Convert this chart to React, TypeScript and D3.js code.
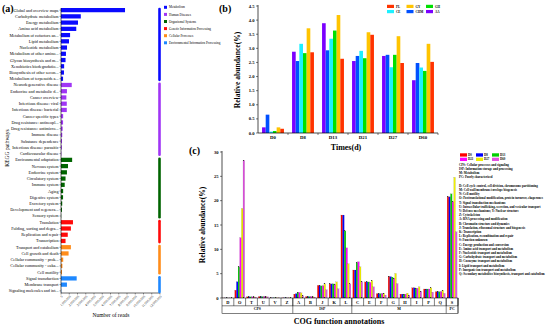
import React from 'react';
import * as d3 from 'd3';

// ---- panel (a): KEGG pathways ----
const keggLabels = [
  'Global and overview maps', 'Carbohydrate metabolism', 'Energy metabolism', 'Amino acid metabolism',
  'Metabolism of cofactors an...', 'Lipid metabolism', 'Nucleotide metabolism', 'Metabolism of other amino...',
  'Glycan biosynthesis and m...', 'Xenobiotics biodegradatio...', 'Biosynthesis of other secon...', 'Metabolism of terpenoids a...',
  'Neurodegenerative disease', 'Endocrine and metabolic d...', 'Cancer overview', 'Infectious disease: viral',
  'Infectious disease: bacterial', 'Cancer specific types', 'Drug resistance: antineopl...', 'Drug resistance: antimicro...',
  'Immune disease', 'Substance dependence', 'Infectious disease: parasitic', 'Cardiovascular disease',
  'Environmental adaptation', 'Nervous system', 'Endocrine system', 'Circulatory system', 'Immune system', 'Aging',
  'Digestive system', 'Excretory system', 'Development and regenera...', 'Sensory system',
  'Translation', 'Folding, sorting and degra...', 'Replication and repair', 'Transcription',
  'Transport and catabolism', 'Cell growth and death', 'Cellular community - prok...', 'Cellular community - euka...', 'Cell motility',
  'Signal transduction', 'Membrane transport', 'Signaling molecules and int...',
];
// number of reads, in millions
const keggReads = [
  7.76, 2.4, 2.06, 1.85, 1.1, 0.97, 0.73, 0.6, 0.55, 0.38, 0.36, 0.25,
  1.3, 0.72, 0.65, 0.7, 0.7, 0.26, 0.25, 0.2, 0.15, 0.12, 0.1, 0.04,
  1.35, 0.85, 0.72, 0.55, 0.45, 0.26, 0.25, 0.15, 0.12, 0.02,
  1.45, 1.2, 0.82, 0.55,
  1.2, 0.92, 0.27, 0.17, 0.12,
  1.9, 0.72, 0.03,
];
const keggGroups = ['Metabolism', 'Human Diseases', 'Organismal Systems', 'Genetic Information Processing', 'Cellular Processes', 'Environmental Information Processing'];
const keggGroupSizes = [12, 12, 10, 4, 5, 3];
const keggColors = ['#0a0aff', '#a035f5', '#006400', '#ff0a0a', '#ff8c1a', '#1e88ff'];
const readTicks = d3.range(0, 13);

// ---- panel (b): relative abundance over time ----
const days = ['D0', 'D8', 'D13', 'D21', 'D27', 'D60'];
const treatments = ['AA', 'CHM', 'CE', 'GH', 'GY', 'PL'];
const treatmentColors = ['#7a00ff', '#0050ff', '#1ef0ff', '#00e000', '#ffc400', '#ff3300'];
const abundanceAA = [0.2, 2.88, 3.89, 2.55, 2.73, 1.87];
const abundanceCHM = [0.65, 2.55, 2.93, 2.73, 2.77, 2.48];
const abundanceCE = [0.05, 3.16, 3.34, 2.91, 2.33, 2.32];
const abundanceGH = [0.07, 2.83, 3.63, 2.65, 2.77, 2.2];
const abundanceGY = [0.2, 3.71, 4.18, 3.57, 3.43, 3.16];
const abundancePL = [0.15, 2.86, 2.63, 3.48, 2.48, 2.52];
const abundanceB = [abundanceAA, abundanceCHM, abundanceCE, abundanceGH, abundanceGY, abundancePL];
const legendOrderB = ['PL', 'GY', 'GH', 'CE', 'CHM', 'AA'];
const yTicksB = d3.range(0, 4.51, 0.5);

// ---- panel (c): COG functions ----
const cogCats = ['D', 'O', 'T', 'U', 'V', 'Z', 'A', 'B', 'J', 'K', 'L', 'C', 'E', 'F', 'G', 'H', 'I', 'P', 'Q', 'S'];
const cogGroups = ['CPS', 'ISP', 'M', 'PC'];
const cogGroupSizes = [6, 5, 8, 1];
const cogDays = ['D0', 'D8', 'D13', 'D21', 'D27', 'D60'];
const cogColors = ['#ff0000', '#0000ff', '#00d000', '#ff00ff', '#f0f000', '#e050e0'];
const cogD0 = [0.02, 1.6, 0.25, 0.3, 0.05, 0.05, 0.8, 0.3, 2.6, 2.9, 17.05, 5.75, 3.3, 0.9, 4.45, 0.8, 2.1, 1.85, 1.3, 20.8];
const cogD8 = [0.02, 3.35, 0.25, 0.3, 0.05, 0.05, 0.9, 0.3, 2.5, 2.9, 17.05, 5.75, 3.3, 0.9, 4.4, 0.8, 2.1, 1.85, 1.3, 20.8];
const cogD13 = [0.02, 6.4, 0.25, 0.3, 0.05, 0.05, 1.15, 0.3, 2.5, 2.9, 13.8, 7.3, 3.3, 0.9, 4.3, 0.8, 2.0, 1.85, 1.3, 21.4];
const cogD21 = [0.02, 12.4, 0.25, 0.3, 0.05, 0.05, 1.15, 0.3, 2.5, 2.8, 10.3, 7.45, 3.2, 0.9, 4.1, 0.8, 2.0, 1.85, 1.3, 19.8];
const cogD27 = [0.02, 18.4, 0.25, 0.3, 0.05, 0.05, 1.05, 0.3, 2.9, 3.3, 7.05, 6.4, 3.6, 1.0, 5.05, 1.0, 2.3, 2.1, 1.6, 24.8];
const cogD60 = [0.02, 28.3, 0.2, 0.25, 0.05, 0.05, 0.5, 0.2, 1.7, 1.9, 2.9, 3.35, 2.3, 0.6, 2.95, 0.6, 1.4, 1.2, 0.95, 13.6];
const cogValues = [cogD0, cogD8, cogD13, cogD21, cogD27, cogD60];
const yTicksC = d3.range(0, 31, 5);
const cogNotes = [
  'CPS: Cellular processes and signaling',
  'ISP: Information storage and processing',
  'M: Metabolism',
  'PC: Poorly characterized',
];
const cogDescriptions = [
  'D: Cell cycle control, cell division, chromosome partitioning',
  'M: Cell wall/membrane/envelope biogenesis',
  'N: Cell motility',
  'O: Posttranslational modification, protein turnover, chaperones',
  'T: Signal transduction mechanisms',
  'U: Intracellular trafficking, secretion, and vesicular transport',
  'V: Defense mechanisms; Y: Nuclear structure',
  'Z: Cytoskeleton',
  'A: RNA processing and modification',
  'B: Chromatin structure and dynamics',
  'J: Translation, ribosomal structure and biogenesis',
  'K: Transcription',
  'L: Replication, recombination and repair',
  'S: Function unknown',
  'C: Energy production and conversion',
  'E: Amino acid transport and metabolism',
  'F: Nucleotide transport and metabolism',
  'G: Carbohydrate transport and metabolism',
  'H: Coenzyme transport and metabolism',
  'I: Lipid transport and metabolism',
  'P: Inorganic ion transport and metabolism',
  'Q: Secondary metabolites biosynthesis, transport and catabolism',
];

const serif = '"Liberation Serif", "Times New Roman", serif';

function PanelA() {
  const y = d3.scaleBand<number>().domain(d3.range(keggLabels.length)).range([8, 293]).paddingInner(0.32);
  const x = d3.scaleLinear().domain([0, 12]).range([61, 160]);
  const rowColor: string[] = [];
  keggGroupSizes.forEach((n, g) => { for (let i = 0; i < n; i++) rowColor.push(keggColors[g]); });
  let start = 0;
  const brackets = keggGroupSizes.map((n, g) => {
    const y0 = y(start)!;
    const y1 = y(start + n - 1)! + y.bandwidth();
    start += n;
    return <line key={g} x1={159.5} x2={159.5} y1={y0 + 1} y2={y1 - 1} stroke={keggColors[g]} strokeWidth={2.6} strokeLinecap="round" />;
  });
  return (
    <g fontFamily={serif}>
      <text x={2} y={12} fontSize={10} fontWeight="bold">(a)</text>
      {keggLabels.map((l, i) => (
        <g key={l}>
          <rect x={x(0)} y={y(i)} width={x(keggReads[i]) - x(0)} height={y.bandwidth()} fill={rowColor[i]} />
          <line x1={x(0) - 1.5} x2={x(0)} y1={y(i)! + y.bandwidth() / 2} y2={y(i)! + y.bandwidth() / 2} stroke="#000" strokeWidth={0.4} />
          <text x={x(0) - 2.5} y={y(i)! + y.bandwidth() / 2} dy="0.35em" textAnchor="end" fontSize={4.2}>{l}</text>
        </g>
      ))}
      <line x1={x(0)} x2={x(0)} y1={8} y2={293} stroke="#000" strokeWidth={0.6} />
      <line x1={x(0)} x2={x(12)} y1={293} y2={293} stroke="#000" strokeWidth={0.6} />
      {readTicks.map(t => (
        <g key={t} transform={`translate(${x(t)},293)`}>
          <line y2={1.5} stroke="#000" strokeWidth={0.4} />
          <text transform="translate(1,3) rotate(-45)" textAnchor="end" fontSize={3.4} dy="0.35em">{d3.format(',')(t * 1e6)}</text>
        </g>
      ))}
      <text x={111} y={317} textAnchor="middle" fontSize={5.5}>Number of reads</text>
      <text transform="translate(9,148) rotate(-90)" textAnchor="middle" fontSize={5.5}>KEGG pathways</text>
      {brackets}
      {keggGroups.map((g, i) => (
        <g key={g} transform={`translate(164,${5.8 + i * 7.1})`}>
          <rect width={3} height={3} fill={keggColors[i]} />
          <text x={5} y={1.5} dy="0.35em" fontSize={3.3}>{g}</text>
        </g>
      ))}
    </g>
  );
}

function PanelB() {
  const x0 = d3.scaleBand().domain(days).range([258, 438]).paddingInner(0.27).paddingOuter(0.135);
  const x1 = d3.scaleBand().domain(treatments).range([0, x0.bandwidth()]);
  const y = d3.scaleLinear().domain([0, 4.5]).range([133, 6]);
  const step = x0.step();
  return (
    <g fontFamily={serif} fontWeight="bold">
      <text x={219} y={12} fontSize={10}>(b)</text>
      {days.map((d, i) => (
        <g key={d}>
          {treatments.map((t, j) => (
            <rect key={t} x={x0(d)! + x1(t)!} y={y(abundanceB[j][i])} width={x1.bandwidth()} height={y(0) - y(abundanceB[j][i])} fill={treatmentColors[j]} />
          ))}
          <text x={x0(d)! + x0.bandwidth() / 2} y={139.3} textAnchor="middle" fontSize={4.8}>{d}</text>
          <line x1={258 + step * (i + 1)} x2={258 + step * (i + 1)} y1={133} y2={135} stroke="#000" strokeWidth={0.5} />
        </g>
      ))}
      <line x1={258} x2={438} y1={133} y2={133} stroke="#000" strokeWidth={0.7} />
      <line x1={258} x2={258} y1={5} y2={133} stroke="#000" strokeWidth={0.7} />
      {yTicksB.map(t => (
        <g key={t}>
          <line x1={256} x2={258} y1={y(t)} y2={y(t)} stroke="#000" strokeWidth={0.5} />
          <text x={254.5} y={y(t)} dy="0.35em" textAnchor="end" fontSize={4.6}>{d3.format('.1f')(t)}</text>
        </g>
      ))}
      <text transform="translate(240,70) rotate(-90)" textAnchor="middle" fontSize={7.6}>Relative abundance(%)</text>
      <text x={346} y={150} textAnchor="middle" fontSize={8}>Times(d)</text>
      {legendOrderB.map((t, i) => {
        const col = i % 3;
        const row = Math.floor(i / 3);
        return (
          <g key={t} transform={`translate(${387 + col * 19.5},${4.8 + row * 5.2})`}>
            <rect width={7} height={3.2} fill={treatmentColors[treatments.indexOf(t)]} />
            <text x={9} y={1.6} dy="0.35em" fontSize={3.2}>{t}</text>
          </g>
        );
      })}
    </g>
  );
}

function PanelC() {
  const x0 = d3.scaleBand().domain(cogCats).range([222, 458]).paddingInner(0.16).paddingOuter(0.08);
  const x1 = d3.scaleBand().domain(cogDays).range([0, x0.bandwidth()]);
  const y = d3.scaleLinear().domain([0, 30]).range([298, 152]);
  const step = x0.step();
  let start = 0;
  const groupCells = cogGroupSizes.map((n, g) => {
    const gx0 = 222 + start * step;
    const gx1 = 222 + (start + n) * step;
    start += n;
    return (
      <g key={g}>
        <line x1={gx1} x2={gx1} y1={298} y2={313.3} stroke="#000" strokeWidth={0.5} />
        <text x={(gx0 + gx1) / 2} y={310} dy="0.1em" textAnchor="middle" fontSize={3.8}>{cogGroups[g]}</text>
      </g>
    );
  });
  return (
    <g fontFamily={serif} fontWeight="bold">
      <text x={189} y={154} fontSize={10}>(c)</text>
      {cogCats.map((c, i) => (
        <g key={c}>
          {cogDays.map((d, j) => (
            <rect key={d} x={x0(c)! + x1(d)!} y={y(cogValues[j][i])} width={x1.bandwidth()} height={y(0) - y(cogValues[j][i])} fill={cogColors[j]} stroke="#333" strokeWidth={0.1} />
          ))}
          <line x1={222 + step * (i + 1)} x2={222 + step * (i + 1)} y1={298} y2={305.8} stroke="#000" strokeWidth={0.5} />
          <text x={x0(c)! + x0.bandwidth() / 2} y={302} dy="0.35em" textAnchor="middle" fontSize={4.4}>{c}</text>
        </g>
      ))}
      <rect x={222} y={298} width={236} height={15.3} fill="none" stroke="#000" strokeWidth={0.5} />
      <line x1={222} x2={458} y1={305.8} y2={305.8} stroke="#000" strokeWidth={0.5} />
      {groupCells}
      <line x1={222} x2={222} y1={151} y2={298} stroke="#000" strokeWidth={0.7} />
      {yTicksC.map(t => (
        <g key={t}>
          <line x1={220} x2={222} y1={y(t)} y2={y(t)} stroke="#000" strokeWidth={0.5} />
          <text x={218.5} y={y(t)} dy="0.35em" textAnchor="end" fontSize={4.6}>{t}</text>
        </g>
      ))}
      <text transform="translate(205,225) rotate(-90)" textAnchor="middle" fontSize={7.6}>Relative abundance(%)</text>
      <text x={339} y={324} textAnchor="middle" fontSize={8}>COG function annotations</text>
      {cogDays.map((d, i) => {
        const col = i % 3;
        const row = Math.floor(i / 3);
        return (
          <g key={d} transform={`translate(${460 + col * 16},${153.3 + row * 4.4})`}>
            <rect width={7} height={3.3} fill={cogColors[i]} />
            <text x={8} y={1.65} dy="0.35em" fontSize={3.1}>{d}</text>
          </g>
        );
      })}
      {cogNotes.map((n, i) => (
        <text key={n} x={459} y={165 + i * 4.1} dy="0.35em" fontSize={3.1}>{n}</text>
      ))}
      {cogDescriptions.map((n, i) => (
        <text key={n} x={459} y={185.7 + i * 4.2} dy="0.35em" fontSize={3.1}>{n}</text>
      ))}
    </g>
  );
}

export default function App() {
  return (
    <svg width={550} height={326} viewBox="0 0 550 326" style={{ position: 'absolute', left: 0, top: 0, background: '#fff' }}>
      <rect width={550} height={326} fill="#fff" />
      <PanelA />
      <PanelB />
      <PanelC />
    </svg>
  );
}
